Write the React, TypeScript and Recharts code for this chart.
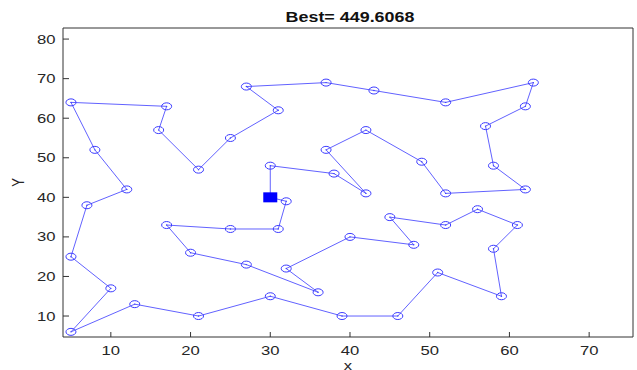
import { ComposedChart, Line, Scatter, XAxis, YAxis } from "recharts";

// tour order, starting and ending at the depot
const tourX = [30, 30, 38, 42, 37, 42, 49, 52, 62, 58, 57, 62, 63, 52, 43, 37, 27, 31, 25, 21, 16, 17, 5, 8, 12, 7, 5, 10, 5, 13, 21, 30, 39, 46, 51, 59, 58, 61, 56, 52, 45, 48, 40, 32, 36, 27, 20, 17, 25, 31, 32, 30];
const tourY = [40, 48, 46, 41, 52, 57, 49, 41, 42, 48, 58, 63, 69, 64, 67, 69, 68, 62, 55, 47, 57, 63, 64, 52, 42, 38, 25, 17, 6, 13, 10, 15, 10, 10, 21, 15, 27, 33, 37, 33, 35, 28, 30, 22, 16, 23, 26, 33, 32, 32, 39, 40];
const startX = [30];
const startY = [40];
const xTicks = [10, 20, 30, 40, 50, 60, 70];
const yTicks = [10, 20, 30, 40, 50, 60, 70, 80];
const title = "Best= 449.6068";

const tour = tourX.map((x, i) => ({ x, y: tourY[i] }));
const start = startX.map((x, i) => ({ x, y: startY[i] }));

const FONT = '"Liberation Sans", Arial, sans-serif';
const AXIS = "#333333";
const STRETCH = 1.28;

const CityDot = (props: any) => {
  const { cx, cy, index } = props;
  if (cx == null || cy == null) return <g key={index} />;
  return (
    <g key={index}>
      <ellipse cx={cx} cy={cy} rx={5} ry={3.5} fill="none" stroke="#3b3bff" strokeWidth={1} />
      <circle cx={cx} cy={cy} r={0.7} fill="#3b3bff" />
    </g>
  );
};

const StartMark = (props: any) => {
  const { cx, cy } = props;
  return <rect x={cx - 7} y={cy - 5} width={14} height={10} fill="#0000ff" />;
};

const BottomTick = (props: any) => {
  const { x, y, payload } = props;
  return (
    <text transform={`translate(${x},${y}) scale(${STRETCH},1)`} textAnchor="middle" fontFamily={FONT} fontSize={13} fill="#262626">
      {payload.value}
    </text>
  );
};

const LeftTick = (props: any) => {
  const { x, y, payload } = props;
  return (
    <text transform={`translate(${x},${y + 4.5}) scale(${STRETCH},1)`} textAnchor="end" fontFamily={FONT} fontSize={13} fill="#262626">
      {payload.value}
    </text>
  );
};

const TitleLabel = (props: any) => {
  const vb = props.viewBox;
  return (
    <text transform={`translate(${vb.x + vb.width / 2 + 2},${vb.y + vb.height - 5.7}) scale(${STRETCH},1)`} textAnchor="middle" fontFamily={FONT} fontSize={14} fontWeight="bold" fill="#111">
      {title}
    </text>
  );
};

const XLabel = (props: any) => {
  const vb = props.viewBox;
  return (
    <text transform={`translate(${vb.x + vb.width / 2},${vb.y + 33}) scale(${STRETCH},1)`} textAnchor="middle" fontFamily={FONT} fontSize={13} fill="#262626">
      x
    </text>
  );
};

const YLabel = (props: any) => {
  const vb = props.viewBox;
  return (
    <text transform={`translate(${vb.x + 24},${vb.y + vb.height / 2}) rotate(-90) scale(1,${STRETCH})`} textAnchor="middle" fontFamily={FONT} fontSize={13} fill="#262626">
      Y
    </text>
  );
};

export default function App() {
  return (
    <div style={{ position: "absolute", left: 0, top: 0, width: 637, height: 370, background: "#fff" }}>
      <ComposedChart width={637} height={370} margin={{ top: 27, right: 3, bottom: 0, left: 0 }}>
        <XAxis xAxisId="b" type="number" dataKey="x" orientation="bottom" domain={[4, 75.5]} ticks={xTicks} allowDataOverflow height={33} stroke={AXIS} tickSize={-5} tickMargin={23} tick={<BottomTick />} label={XLabel} />
        <XAxis xAxisId="t" type="number" dataKey="x" orientation="top" domain={[4, 75.5]} ticks={xTicks} allowDataOverflow height={1} stroke={AXIS} tickSize={-5} tick={false} label={TitleLabel} />
        <YAxis yAxisId="l" type="number" dataKey="y" orientation="left" domain={[4.7, 82.8]} ticks={yTicks} allowDataOverflow width={63} stroke={AXIS} tickSize={-6} tickMargin={13.5} tick={<LeftTick />} label={YLabel} />
        <YAxis yAxisId="r" type="number" dataKey="y" orientation="right" domain={[4.7, 82.8]} ticks={yTicks} allowDataOverflow width={1} stroke={AXIS} tickSize={-6} tick={false} />
        <Line xAxisId="b" yAxisId="l" data={tour} dataKey="y" type="linear" stroke="#6262ff" strokeWidth={1} dot={CityDot} activeDot={false} isAnimationActive={false} />
        <Scatter xAxisId="b" yAxisId="l" data={start} dataKey="y" shape={StartMark} isAnimationActive={false} />
      </ComposedChart>
    </div>
  );
}
